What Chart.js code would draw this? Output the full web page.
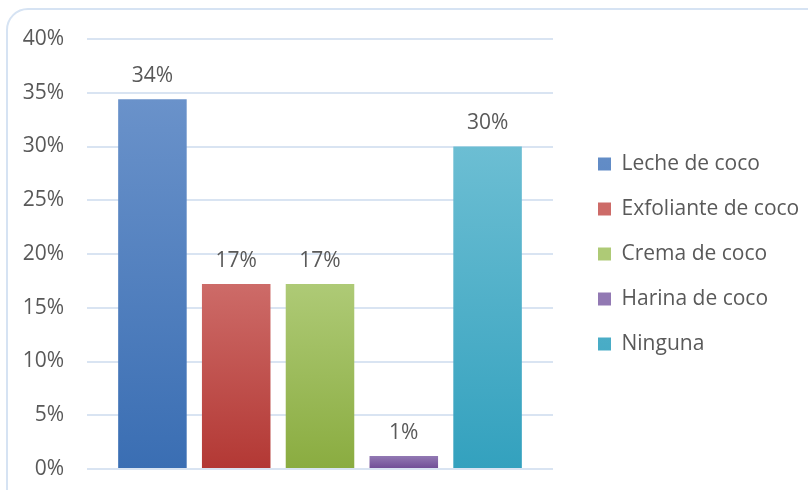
<!DOCTYPE html>
<html>
<head>
<meta charset="utf-8">
<script src="https://cdn.jsdelivr.net/npm/chart.js@4.4.1/dist/chart.umd.min.js"></script>
<style>
  html, body { margin: 0; padding: 0; background: #fff; }
  body { width: 808px; height: 490px; overflow: hidden; position: relative; }
  .frame {
    position: absolute; left: 6px; top: 8px; width: 840px; height: 520px;
    border: 2px solid #D6E3F3; border-radius: 22px; box-sizing: border-box;
  }
  #myChart { position: absolute; left: 0; top: 0; }
</style>
</head>
<body>
<div class="frame"></div>
<canvas id="myChart" width="808" height="490"></canvas>
<script>
// one category holding five series, each drawn as its own bar
const categories = [''];
const seriesNames = ['Leche de coco', 'Exfoliante de coco', 'Crema de coco', 'Harina de coco', 'Ninguna'];
const seriesValues = [34.4, 17.2, 17.2, 1.2, 30.0];
const yTickValues = [0, 5, 10, 15, 20, 25, 30, 35, 40];

// bar gradients, light at the top, darker at the base
const topColors = ['#6A92CA', '#CD6B68', '#AECA76', '#9279B3', '#6CBED3'];
const midColors = ['#4F80C0', '#C2504D', '#9BBB59', '#8064A2', '#4BACC6'];
const bottomColors = ['#3A6EB3', '#B33834', '#8AAC40', '#6F4C95', '#33A1BE'];

const FONT = '"Open Sans", sans-serif';
const FONT_SIZE = 21;
const TEXT = '#595959';
const LEGEND_WIDTH = 255;   // room right of the plot
const LEGEND_INDENT = 21;   // extra gap before the legend swatches

function barFill(ctx) {
    const i = ctx.datasetIndex;
    const chart = ctx.chart;
    if (ctx.type !== 'data' || !chart.chartArea) return midColors[i];
    const y = chart.scales.y;
    const top = y.getPixelForValue(ctx.raw);
    const base = y.getPixelForValue(0);
    const g = chart.ctx.createLinearGradient(0, top, 0, base);
    g.addColorStop(0, topColors[i]);
    g.addColorStop(1, bottomColors[i]);
    return g;
}

// percentage printed above each bar
const valueLabels = {
    id: 'valueLabels',
    afterDatasetsDraw(chart) {
        const c = chart.ctx;
        c.save();
        c.font = FONT_SIZE + 'px ' + FONT;
        c.fillStyle = TEXT;
        c.textAlign = 'center';
        c.textBaseline = 'middle';
        chart.data.datasets.forEach((ds, i) => {
            const bar = chart.getDatasetMeta(i).data[0];
            c.fillText(Math.round(ds.data[0]) + '%', bar.x, bar.y - 23);
        });
        c.restore();
    }
};

// fixed legend width, and push the legend items away from the plot
const legendPlacement = {
    id: 'legendPlacement',
    beforeLayout(chart) {
        const lg = chart.legend;
        if (lg && !lg._fixedWidth) {
            const fit = lg.fit;
            lg.fit = function() {
                fit.call(this);
                this.width = LEGEND_WIDTH;
            };
            lg._fixedWidth = true;
        }
    },
    afterLayout(chart) {
        if (chart.legend) chart.legend.left += LEGEND_INDENT;
    }
};

new Chart(document.getElementById('myChart'), {
    type: 'bar',
    plugins: [valueLabels, legendPlacement],
    data: {
        labels: categories,
        datasets: seriesNames.map((name, i) => ({
            label: name,
            data: [seriesValues[i]],
            backgroundColor: barFill,
            borderWidth: 0,
            barPercentage: 0.818,
            categoryPercentage: 0.899
        }))
    },
    options: {
        responsive: false,
        animation: false,
        layout: { padding: { top: 39, bottom: 21, left: 0, right: 0 } },
        scales: {
            x: { display: false },
            y: {
                min: yTickValues[0],
                max: yTickValues[yTickValues.length - 1],
                afterBuildTicks(scale) {
                    scale.ticks = yTickValues.map(v => ({ value: v }));
                },
                afterFit(scale) {
                    scale.width = 87;
                    scale.paddingTop = 12;
                    scale.paddingBottom = 12;
                },
                ticks: {
                    padding: 23,
                    color: TEXT,
                    font: { family: FONT, size: FONT_SIZE },
                    callback: v => v + '%'
                },
                grid: { color: '#D9E4F2', lineWidth: 2, drawTicks: false },
                border: { display: false }
            }
        },
        plugins: {
            legend: {
                position: 'right',
                labels: {
                    boxWidth: 13,
                    boxHeight: 13,
                    padding: 24,
                    color: TEXT,
                    font: { family: FONT, size: FONT_SIZE }
                }
            },
            tooltip: { enabled: false }
        }
    }
});
</script>
</body>
</html>
